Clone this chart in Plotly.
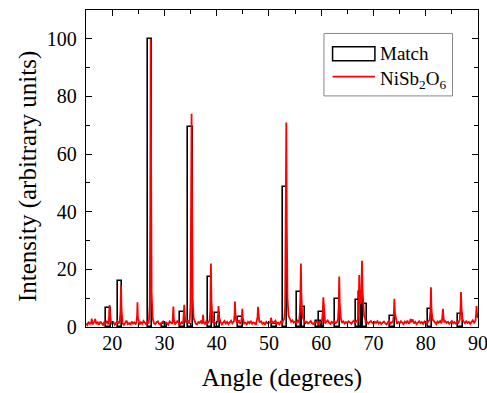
import plotly.graph_objects as go

# ---- Match (reference pattern) bars ----
match_angle = [19.3, 21.5, 27.25, 30.0, 33.5, 35.0, 38.7, 40.1, 44.5, 51.0, 53.05,
               55.9, 56.5, 59.5, 60.0, 63.1, 67.1, 67.6, 68.3, 73.6, 80.8, 86.6]
match_height = [6.7, 15.8, 100, 1.0, 5.3, 69.4, 17.2, 4.8, 3.6, 1.0, 48.5,
                12.0, 6.9, 2.0, 5.3, 9.6, 9.2, 12.0, 7.9, 3.8, 6.2, 4.4]

# ---- Measured NiSb2O6 pattern: background samples every 0.25 deg from 15 deg ----
base_start = 15.0
base_step = 0.25
base_intensity = [
    1.2, 0.7, 1.8, 1.1, 2.0, 0.9, 1.5, 2.8, 1.0, 1.6, 0.8, 1.9, 1.3, 0.7, 1.7, 1.2, 2.1, 0.9, 1.4, 1.8,
    1.1, 1.7, 0.8, 1.5, 2.0, 1.2, 0.9, 1.8, 1.3, 0.7, 1.6, 2.2, 1.0, 1.4, 0.8, 1.9, 1.2, 1.6, 0.9, 2.0,
    1.3, 0.8, 1.7, 1.1, 2.1, 1.5, 0.9, 1.8, 1.2, 1.6, 0.7, 1.9, 1.3, 1.0, 1.7, 2.0, 1.1, 0.8, 1.5, 1.9,
    1.0, 1.6, 1.3, 0.8, 2.0, 1.4, 1.1, 1.8, 0.9, 1.5, 2.2, 1.2, 0.8, 1.7, 1.3, 1.9, 1.0, 1.6, 2.1, 1.2,
    1.8, 1.0, 1.5, 2.0, 1.2, 0.9, 1.7, 1.4, 2.2, 1.1, 1.6, 0.9, 1.9, 1.3, 1.8, 2.3, 1.0, 1.5, 1.9, 1.2,
    1.4, 2.0, 1.1, 1.7, 0.9, 1.6, 2.1, 1.2, 1.8, 1.0, 1.5, 2.2, 1.3, 1.7, 1.0, 1.9, 1.4, 2.3, 1.1, 1.6,
    2.0, 1.2, 1.5, 0.9, 1.8, 1.3, 2.1, 1.0, 1.6, 1.4, 0.8, 1.9, 1.2, 1.7, 2.0, 1.1, 1.5, 0.9, 1.8, 1.3,
    1.6, 1.0, 2.0, 1.4, 1.7, 2.2, 1.1, 1.5, 0.9, 1.8, 1.3, 2.1, 1.6, 1.0, 1.9, 1.4, 1.2, 1.8, 2.3, 1.5,
    1.9, 1.3, 2.2, 1.6, 1.1, 2.0, 1.7, 2.4, 1.4, 1.8, 1.2, 1.6, 2.1, 1.3, 1.0, 1.7, 1.5, 2.0, 1.2, 1.8,
    1.4, 2.1, 1.6, 1.2, 1.9, 2.3, 1.5, 1.1, 1.8, 1.4, 2.0, 1.3, 1.7, 1.0, 1.6, 2.2, 1.4, 1.9, 1.2, 1.7,
    1.3, 2.0, 1.6, 1.1, 1.8, 2.2, 1.5, 1.9, 1.3, 2.4, 1.7, 2.1, 1.6, 2.0, 1.4, 1.8, 1.2, 1.7, 2.1, 1.5,
    1.1, 1.8, 1.4, 2.0, 1.2, 1.7, 1.0, 1.5, 1.9, 1.3, 0.9, 1.6, 2.1, 1.2, 1.8, 1.4, 2.2, 1.5, 1.1, 1.7,
    1.3, 2.0, 1.6, 1.0, 1.9, 1.4, 2.2, 1.1, 1.7, 1.5, 2.6, 1.2, 1.8, 1.0, 1.6, 2.0, 1.3, 1.7, 1.1, 1.9,
    1.5, 1.2, 2.0, 1.6, 1.1, 1.8, 2.3, 1.4, 1.0, 1.9, 1.5, 2.1, 1.3, 1.7, 1.2, 2.0, 1.4, 1.8, 1.1, 1.6,
    2.1, 1.3, 1.7, 1.0, 1.9, 1.5, 2.2, 1.2, 1.6, 1.9, 1.3, 2.0, 1.4, 1.8, 1.1, 1.7, 2.3, 1.5, 1.9, 2.6,
    3.0,
]

# ---- Measured NiSb2O6 pattern: reflection profiles (angle, intensity) ----
peak_angles = [
    [16.0, 16.1, 16.2],
    [19.3, 19.4, 19.5, 19.6, 19.75],
    [21.45, 21.6, 21.7, 21.8, 21.95],
    [24.65, 24.78, 24.85, 24.92, 25.05],
    [27.05, 27.2, 27.3, 27.38, 27.45, 27.55, 27.75],
    [31.55, 31.65, 31.72, 31.8, 31.9],
    [33.6, 33.72, 33.8, 33.88, 34.0],
    [34.85, 35.0, 35.1, 35.2, 35.28, 35.4, 35.6],
    [37.3, 37.4, 37.5],
    [38.65, 38.78, 38.9, 39.0, 39.15],
    [40.15, 40.28, 40.35, 40.45, 40.6],
    [43.3, 43.42, 43.5, 43.6, 43.75],
    [44.7, 44.82, 44.9, 45.0, 45.15],
    [47.7, 47.82, 47.9, 48.0, 48.15],
    [50.25, 50.35, 50.4, 50.5, 50.6],
    [52.95, 53.1, 53.2, 53.32, 53.42, 53.55, 53.75, 54.0],
    [55.8, 55.95, 56.05, 56.12, 56.2, 56.35, 56.55],
    [60.15, 60.3, 60.4, 60.5, 60.7],
    [63.2, 63.35, 63.45, 63.55, 63.75],
    [67.0, 67.15, 67.28, 67.4, 67.55, 67.7, 67.8, 67.9, 68.05, 68.2, 68.45],
    [73.75, 73.9, 74.0, 74.1, 74.3],
    [76.95, 77.1, 77.25],
    [80.75, 80.9, 81.0, 81.1, 81.3],
    [83.1, 83.22, 83.3, 83.4, 83.55],
    [86.5, 86.65, 86.75, 86.85, 87.05],
    [89.5, 89.62, 89.72, 89.82, 90.0],
]
peak_intensity = [
    [1.5, 2.9, 1.4],
    [1.8, 3.5, 7.6, 4.0, 2.0],
    [2.0, 5.5, 14.5, 6.0, 2.3],
    [1.7, 4.0, 8.6, 3.5, 1.6],
    [2.5, 8.0, 40.0, 100.0, 60.0, 12.0, 3.0],
    [1.6, 3.5, 7.1, 3.0, 1.5],
    [1.8, 4.0, 7.7, 4.5, 2.0],
    [2.5, 8.0, 35.0, 74.0, 45.0, 10.0, 3.0],
    [1.6, 4.2, 1.8],
    [2.2, 6.0, 22.0, 9.0, 3.0],
    [2.0, 4.5, 7.3, 3.5, 1.8],
    [2.0, 4.0, 8.8, 4.0, 2.0],
    [2.0, 3.5, 6.3, 3.2, 1.8],
    [2.0, 3.5, 7.0, 3.5, 2.0],
    [1.6, 2.5, 3.2, 2.2, 1.5],
    [3.0, 7.0, 25.0, 71.0, 35.0, 10.0, 4.0, 2.5],
    [2.5, 6.0, 14.0, 22.0, 12.0, 5.0, 3.0],
    [2.2, 5.0, 10.3, 6.0, 2.5],
    [2.5, 7.0, 17.5, 8.0, 3.0],
    [2.5, 6.0, 18.0, 9.0, 8.0, 12.0, 23.0, 13.0, 7.0, 4.0, 2.5],
    [2.0, 4.5, 9.8, 5.0, 2.2],
    [1.6, 2.8, 1.7],
    [2.5, 5.5, 13.8, 6.0, 2.5],
    [2.0, 3.5, 6.3, 3.2, 1.8],
    [2.5, 6.0, 12.1, 6.0, 2.5],
    [2.2, 4.0, 7.3, 4.5, 3.0],
]

# ---- merge background and reflections into one measured curve ----
points = []
for i, v in enumerate(base_intensity):
    a = base_start + i * base_step
    if any(p[0] <= a <= p[-1] for p in peak_angles):
        continue
    points.append((a, v))
for pa, pi in zip(peak_angles, peak_intensity):
    points.extend(zip(pa, pi))
points.sort(key=lambda t: t[0])
red_x = [p[0] for p in points]
red_y = [p[1] for p in points]

FONT = "Liberation Serif"

fig = go.Figure()
fig.add_trace(go.Bar(
    x=match_angle, y=match_height, width=0.9,
    marker=dict(color="rgba(0,0,0,0)", line=dict(color="black", width=1.6)),
    name="Match", showlegend=False,
))
fig.add_trace(go.Scatter(
    x=red_x, y=red_y, mode="lines",
    line=dict(color="#ff0000", width=1.8),
    name="NiSb2O6", showlegend=False,
))

axis_common = dict(
    showline=True, linecolor="black", linewidth=1.3, mirror="ticks",
    ticks="inside", ticklen=6, tickwidth=1.3, tickcolor="black",
    showgrid=False, zeroline=False, automargin=False,
    tickfont=dict(family=FONT, size=20, color="black"),
)
fig.update_xaxes(
    range=[15, 90], dtick=10, tick0=0,
    minor=dict(ticks="inside", ticklen=3.5, dtick=5, tickcolor="black", tickwidth=1.3),
    ticklabelstandoff=-2, ticklabeloverflow="allow",
    title=dict(text="Angle (degrees)", font=dict(family=FONT, size=25, color="black"), standoff=15),
    **axis_common,
)
fig.update_yaxes(
    range=[0, 110], dtick=20, tick0=0,
    minor=dict(ticks="inside", ticklen=3.5, dtick=10, tickcolor="black", tickwidth=1.3),
    ticklabelstandoff=4,
    **axis_common,
)

# y-axis title placed to match the original (slightly below the plot centre)
fig.add_annotation(xref="paper", yref="paper", x=-0.148, y=0.476, text="Intensity (arbitrary units)",
                   textangle=-90, showarrow=False, xanchor="center", yanchor="middle",
                   font=dict(family=FONT, size=25, color="black"))

# ---- legend drawn manually to reproduce the boxed look ----
fig.add_shape(type="rect", xref="paper", yref="paper", x0=0.607, x1=0.935, y0=0.729, y1=0.926,
              line=dict(color="#888888", width=1), fillcolor="white", layer="above")
fig.add_shape(type="rect", xref="paper", yref="paper", x0=0.629, x1=0.737, y0=0.840, y1=0.884,
              line=dict(color="black", width=1.5), fillcolor="white", layer="above")
fig.add_shape(type="line", xref="paper", yref="paper", x0=0.629, x1=0.737, y0=0.790, y1=0.790,
              line=dict(color="#ff0000", width=1.8), layer="above")
fig.add_annotation(xref="paper", yref="paper", x=0.744, y=0.862, text="Match", showarrow=False,
                   xanchor="left", yanchor="middle", font=dict(family=FONT, size=19, color="black"))
fig.add_annotation(xref="paper", yref="paper", x=0.744, y=0.780, text="NiSb<sub>2</sub>O<sub>6</sub>",
                   showarrow=False, xanchor="left", yanchor="middle",
                   font=dict(family=FONT, size=19, color="black"))

fig.update_layout(
    width=487, height=393,
    margin=dict(l=86, r=9, t=10, b=66),
    paper_bgcolor="white", plot_bgcolor="white",
    bargap=0, barmode="overlay",
)

fig.write_html("out.html")
